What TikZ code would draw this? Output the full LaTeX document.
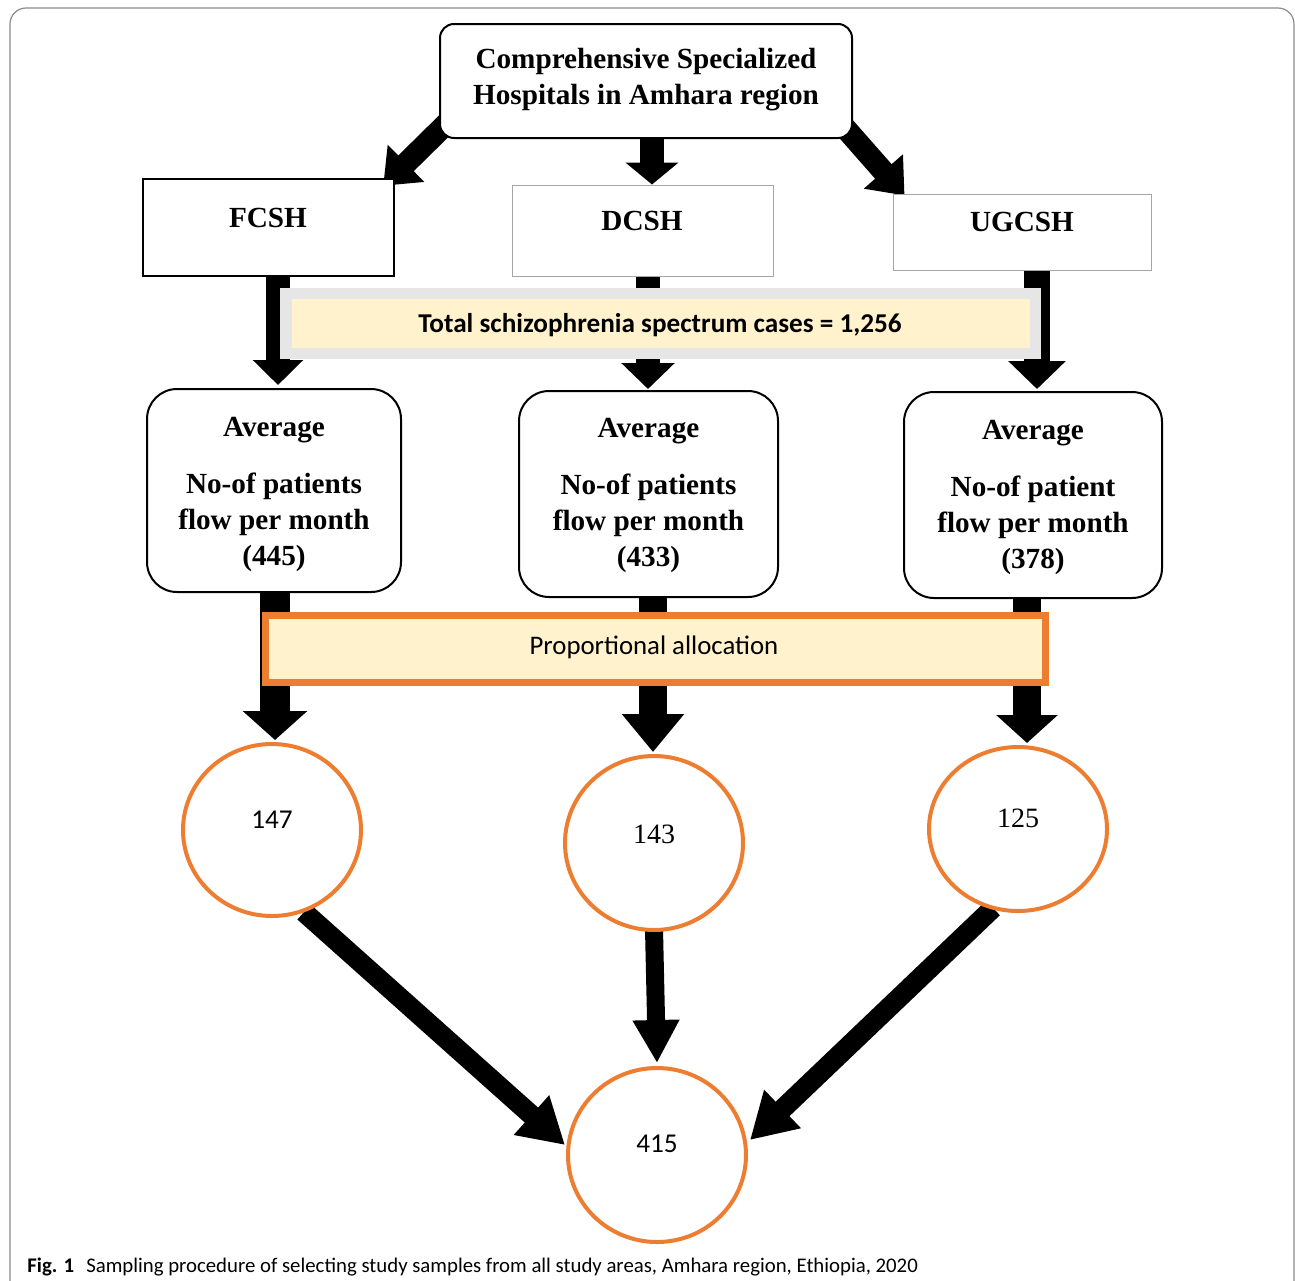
\documentclass[tikz,border=0pt]{standalone}
\usepackage{fontspec}
\setmainfont{Liberation Serif}
\newfontfamily\calib{Carlito}
\usetikzlibrary{arrows.meta,shapes.geometric,calc,backgrounds}
\definecolor{orng}{HTML}{ED7D31}
\definecolor{cream}{HTML}{FFF2CC}
\definecolor{lgrey}{HTML}{E6E6E6}
\definecolor{framegrey}{HTML}{8C8C8C}
\begin{document}
\begin{tikzpicture}[x=0.5pt,y=-0.5pt,
  serifbold/.style={font=\bfseries\fontsize{14.6}{18}\selectfont},
  topbox/.style={draw, fill=white, rounded corners=7pt, line width=1pt, minimum width=206pt, minimum height=57pt, inner sep=0pt},
  boxtext/.style={align=center, inner sep=0pt, serifbold},
  hospbox/.style={draw, fill=white, inner sep=0pt},
  avgbox/.style={draw, fill=white, rounded corners=15pt, line width=1pt, inner sep=0pt},
  circ/.style={ellipse, draw=orng, line width=2pt, fill=white, minimum width=89pt, inner sep=0pt},
  arr/.style={draw=black, line cap=butt},
]
\useasboundingbox (0,0) rectangle (1295,1280);
% outer frame
\draw[framegrey, line width=0.6pt, rounded corners=8pt] (10,1300) -- (10,8) -- (1294,8) -- (1294,1300);

% top box
\node[topbox] (top) at (646,81) {};
\node[boxtext] (topt) at (646,80) {Comprehensive Specialized\\Hospitals in Amhara region};

% hospital boxes
\node[hospbox, line width=1.2pt, minimum width=125.5pt, minimum height=48.5pt] (fcsh) at (268.5,227.5) {};
\node[boxtext] (fcsht) at (268,218) {FCSH};
\node[hospbox, draw=gray!70, line width=0.5pt, minimum width=130.5pt, minimum height=45.5pt] (dcsh) at (642.5,230.5) {};
\node[boxtext] (dcsht) at (642,221) {DCSH};
\node[hospbox, draw=gray!70, line width=0.5pt, minimum width=129pt, minimum height=38pt] (ugcsh) at (1022,232) {};
\node[boxtext] (ugcsht) at (1022,222) {UGCSH};

% total banner
\node[fill=lgrey, minimum width=380.5pt, minimum height=35.5pt, inner sep=0pt] (totalout) at (660.5,323.5) {};
\node[fill=cream, minimum width=369pt, minimum height=24.5pt, inner sep=0pt] (total) at (660.5,323.5) {};
\node[inner sep=0pt, font=\calib\bfseries\fontsize{13.6}{16}\selectfont] (totalt) at (660,325.5) {Total schizophrenia spectrum cases = 1,256};

% average boxes
\node[avgbox, minimum width=127pt, minimum height=101.5pt] (avg1) at (274,490.5) {};
\node[boxtext] (avg1t) at (274,494) {Average\\[10.5pt]No-of patients\\flow per month\\(445)};
\node[avgbox, minimum width=129.5pt, minimum height=103pt] (avg2) at (648.5,494) {};
\node[boxtext] (avg2t) at (648.5,495.5) {Average\\[10.5pt]No-of patients\\flow per month\\(433)};
\node[avgbox, minimum width=129pt, minimum height=103pt] (avg3) at (1033,495) {};
\node[boxtext] (avg3t) at (1033,497) {Average\\[10.5pt]No-of patient\\flow per month\\(378)};

% proportional banner
\node[draw=orng, line width=3.5pt, fill=cream, minimum width=390pt, minimum height=33.5pt, inner sep=0pt] (prop) at (655,648.5) {};
\node[inner sep=0pt, font=\calib\fontsize{13.4}{16}\selectfont] (propt) at (654,647) {Proportional allocation};

% circles
\node[circ, minimum height=86pt] (c1) at (272,830) {};
\node[font=\calib\fontsize{13.6}{16}\selectfont, inner sep=0pt] (c1t) at (272,820) {147};
\node[circ, minimum height=87pt] (c2) at (654,843) {};
\node[font=\fontsize{14}{16}\selectfont, inner sep=0pt] (c2t) at (654,834) {143};
\node[circ, minimum height=82pt] (c3) at (1018,829) {};
\node[font=\fontsize{14}{16}\selectfont, inner sep=0pt] (c3t) at (1018,818) {125};
\node[circ, minimum height=87pt] (c4) at (657,1155) {};
\node[font=\calib\fontsize{13.6}{16}\selectfont, inner sep=0pt] (c4t) at (657,1144) {415};

% caption
\node[anchor=base west, inner sep=0pt, font=\calib\fontsize{10.4}{12}\selectfont] (cap) at (27,1272) {\textbf{Fig. 1}\hspace{6pt}Sampling procedure of selecting study samples from all study areas, Amhara region, Ethiopia, 2020};

% arrows
\begin{scope}[on background layer]
\draw[arr, line width=11pt, -{Triangle[width=25pt,length=16pt]}] ($(top.south west)+(10,-18)$) -- ($(fcsh.north east)+(-12,8)$);
\draw[arr, line width=12pt, -{Triangle[width=26pt,length=11pt]}] ($(top.south)+(6,-5)$) -- ($(dcsh.north)+(9.5,0)$);
\draw[arr, line width=11pt, -{Triangle[width=25pt,length=16pt]}] ($(top.south east)+(-14,-18)$) -- ($(ugcsh.north west)+(12,2)$);

\draw[arr, line width=12pt, -{Triangle[width=24.5pt,length=12.5pt]}] ($(fcsh.south)+(9.5,-2)$) -- ($(avg1.north)+(4,-3)$);
\draw[arr, line width=12pt, -{Triangle[width=26pt,length=13pt]}] ($(dcsh.south)+(5.5,-2)$) -- ($(avg2.north)+(-0.5,-1)$);
\draw[arr, line width=13pt, -{Triangle[width=28pt,length=14pt]}] ($(ugcsh.south)+(15,-2)$) -- ($(avg3.north)+(4,-2)$);

\draw[arr, line width=15pt, -{Triangle[width=31.5pt,length=14.5pt]}] ($(avg1.south)+(1,-2)$) -- ($(c1.north)+(3,-2)$);
\draw[arr, line width=14pt, -{Triangle[width=30pt,length=19pt]}] ($(avg2.south)+(4.5,-2)$) -- ($(c2.north)+(-1,-2)$);
\draw[arr, line width=14pt, -{Triangle[width=30pt,length=14pt]}] ($(avg3.south)+(-6,-2)$) -- ($(c3.north)+(9,-2)$);

\draw[arr, line width=10pt, -{Triangle[width=25pt,length=22.5pt]}] ($(c1.center)+(32,82)$) -- ($(c4.center)+(-92,-10)$);
\draw[arr, line width=9pt, -{Triangle[width=22pt,length=21.5pt]}] ($(c2.south)+(0,-3)$) -- ($(c4.north)+(0,-3)$);
\draw[arr, line width=10pt, -{Triangle[width=25pt,length=22.5pt]}] ($(c3.center)+(-25,79)$) -- ($(c4.center)+(93,-15)$);
\end{scope}
\end{tikzpicture}
\end{document}
